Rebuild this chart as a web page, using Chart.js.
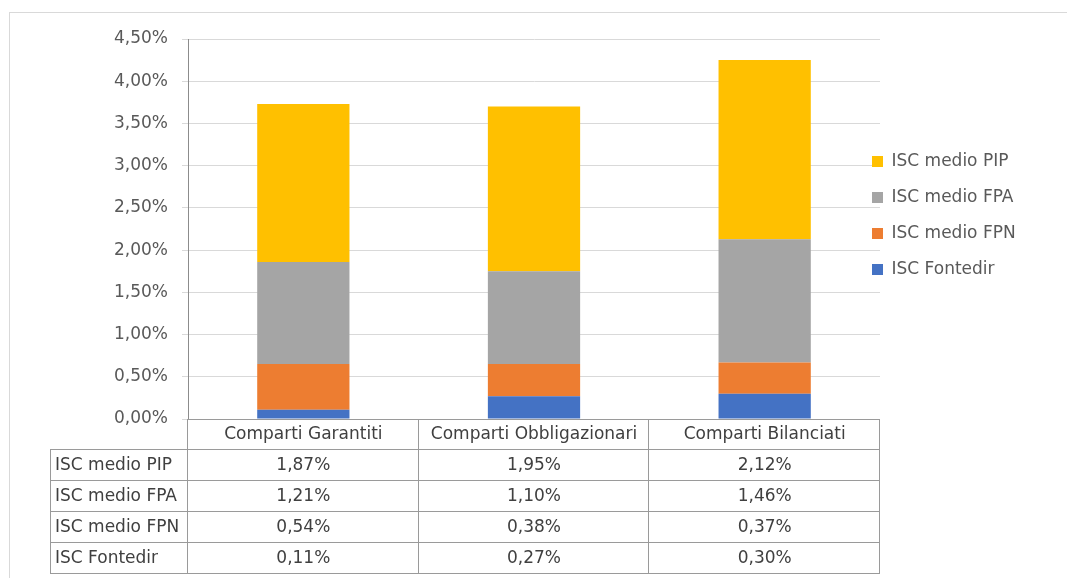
<!DOCTYPE html>
<html>
<head>
<meta charset="utf-8">
<script src="https://cdn.jsdelivr.net/npm/chart.js@4/dist/chart.umd.min.js"></script>
<style>
    body { margin: 0; overflow: hidden; background: #fff; }
    #frame { position: absolute; left: 9px; top: 12px; width: 2000px; height: 2000px; border: 1px solid #d9d9d9; }
    #iscChart { position: absolute; left: 0; top: 0; }
</style>
</head>
<body>
<div id="frame"></div>
<canvas id="iscChart" width="1067" height="578"></canvas>
<script>
const categories = ['Comparti Garantiti', 'Comparti Obbligazionari', 'Comparti Bilanciati'];
const iscFontedir = [0.11, 0.27, 0.30];
const iscMedioFPN = [0.54, 0.38, 0.37];
const iscMedioFPA = [1.21, 1.10, 1.46];
const iscMedioPIP = [1.87, 1.95, 2.12];
const yTicks = [0, 0.5, 1, 1.5, 2, 2.5, 3, 3.5, 4, 4.5];

function formatPct(v) {
    return v.toFixed(2).replace('.', ',') + '%';
}

document.addEventListener("DOMContentLoaded", function () {
    Chart.defaults.font.family = "'DejaVu Sans', Verdana, sans-serif";
    Chart.defaults.font.size = 17;
    Chart.defaults.color = '#595959';

    const tableLine = '#9a9a9a';
    const tableText = '#404040';
    const headerHeight = 30;
    const rowHeight = 31;
    const tableLeft = 50;

    // legend width fixed, then nudged to sit like the original
    const legendPlacement = {
        id: 'legendPlacement',
        beforeLayout(chart) {
            const lg = chart.legend;
            if (lg && !lg._fixedFit) {
                const fit = lg.fit;
                lg.fit = function () {
                    fit.call(this);
                    this.width = 187;
                };
                lg._fixedFit = true;
            }
        },
        afterLayout(chart) {
            const lg = chart.legend;
            lg.left -= 27;
            lg.right -= 27;
            lg.top -= 93;
            lg.bottom -= 93;
        }
    };

    // data table under the plot, columns taken from the x scale
    const dataTable = {
        id: 'dataTable',
        afterDraw(chart) {
            const ctx = chart.ctx;
            const xs = chart.scales.x;
            const area = chart.chartArea;
            const colW = (xs.right - xs.left) / categories.length;
            const top = area.bottom;
            const rows = chart.data.datasets.slice().reverse();
            const bottom = top + headerHeight + rows.length * rowHeight;

            ctx.save();
            ctx.strokeStyle = tableLine;
            ctx.lineWidth = 1;
            ctx.beginPath();
            ctx.moveTo(xs.left, top + 0.5);
            ctx.lineTo(xs.right, top + 0.5);
            for (let r = 0; r <= rows.length; r++) {
                const y = Math.round(top + headerHeight + r * rowHeight) + 0.5;
                ctx.moveTo(tableLeft, y);
                ctx.lineTo(xs.right, y);
            }
            ctx.moveTo(tableLeft + 0.5, top + headerHeight);
            ctx.lineTo(tableLeft + 0.5, bottom);
            for (let c = 0; c <= categories.length; c++) {
                const x = Math.round(xs.left + c * colW) - 0.5;
                ctx.moveTo(x, top);
                ctx.lineTo(x, bottom + 0.5);
            }
            ctx.stroke();

            ctx.fillStyle = tableText;
            ctx.font = "17px 'DejaVu Sans', Verdana, sans-serif";
            ctx.textBaseline = 'middle';
            ctx.textAlign = 'center';
            categories.forEach((cat, i) => {
                ctx.fillText(cat, xs.getPixelForValue(i), top + headerHeight / 2 + 1);
            });
            rows.forEach((ds, r) => {
                const y = top + headerHeight + r * rowHeight + rowHeight / 2 + 1;
                ctx.textAlign = 'left';
                ctx.fillText(ds.label, tableLeft + 5, y);
                ctx.textAlign = 'center';
                ds.data.forEach((v, i) => {
                    ctx.fillText(formatPct(v), xs.getPixelForValue(i), y);
                });
            });
            ctx.restore();
        }
    };

    const ctx = document.getElementById('iscChart');
    new Chart(ctx, {
        type: 'bar',
        data: {
            labels: categories,
            datasets: [
                { label: 'ISC Fontedir', data: iscFontedir, backgroundColor: '#4472c4' },
                { label: 'ISC medio FPN', data: iscMedioFPN, backgroundColor: '#ed7d31' },
                { label: 'ISC medio FPA', data: iscMedioFPA, backgroundColor: '#a5a5a5' },
                { label: 'ISC medio PIP', data: iscMedioPIP, backgroundColor: '#ffc000' }
            ]
        },
        options: {
            responsive: false,
            animation: false,
            categoryPercentage: 1,
            barPercentage: 0.4,
            layout: { padding: { top: 39, left: 0, right: 0, bottom: 0 } },
            plugins: {
                tooltip: { enabled: false },
                legend: {
                    position: 'right',
                    reverse: true,
                    labels: {
                        boxWidth: 11,
                        boxHeight: 11,
                        padding: 19,
                        color: '#595959',
                        font: { size: 17 }
                    }
                }
            },
            scales: {
                x: {
                    stacked: true,
                    ticks: { display: false },
                    grid: { display: false },
                    border: { display: false },
                    afterFit(scale) { scale.height = 159; }
                },
                y: {
                    stacked: true,
                    min: 0,
                    max: 4.5,
                    afterBuildTicks(scale) {
                        scale.ticks = yTicks.map(v => ({ value: v }));
                    },
                    ticks: {
                        padding: 14,
                        color: '#595959',
                        callback: value => formatPct(value)
                    },
                    grid: { color: '#d9d9d9', tickLength: 6 },
                    border: { color: '#8c8c8c' },
                    afterFit(scale) { scale.width = 188; }
                }
            }
        },
        plugins: [legendPlacement, dataTable]
    });
});
</script>
</body>
</html>
